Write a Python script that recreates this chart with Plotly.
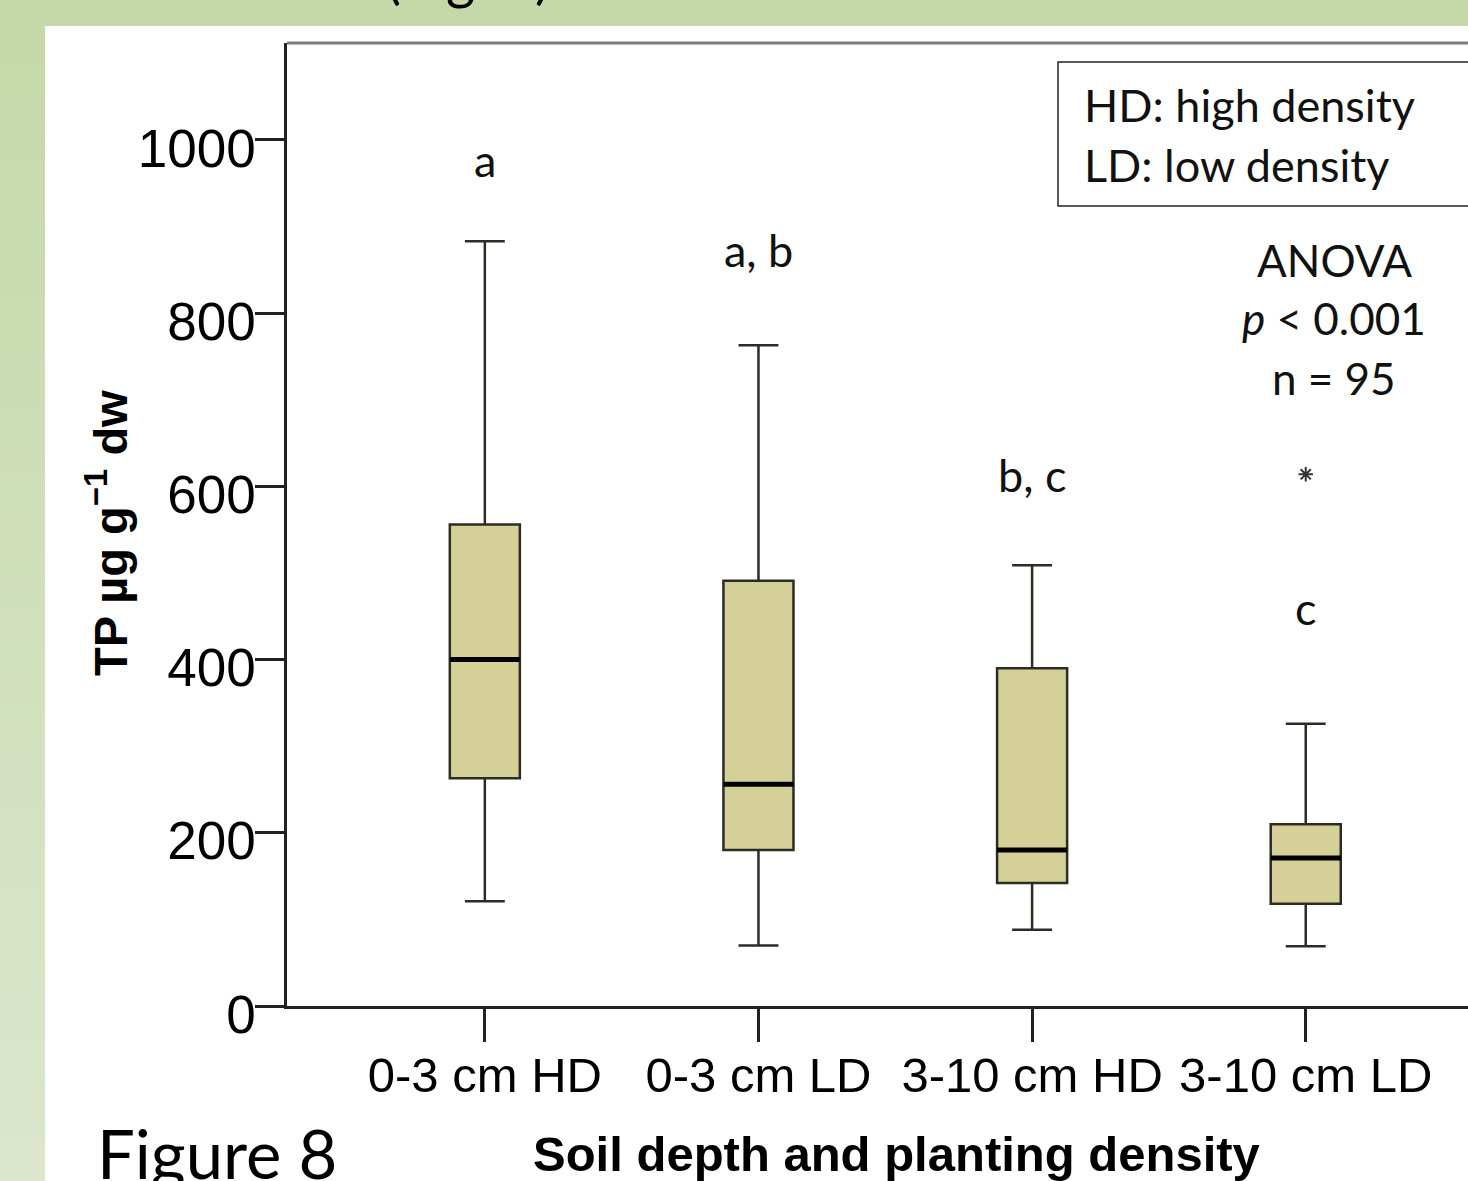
import plotly.graph_objects as go

# ---------------- data ----------------
categories = ["0-3 cm HD", "0-3 cm LD", "3-10 cm HD", "3-10 cm LD"]
q1 = [263, 180, 142, 118]
median = [400, 256, 180, 171]
q3 = [556, 491, 390, 210]
lower_whisker = [121, 70, 88, 69]
upper_whisker = [883, 763, 509, 326]
outlier_cat = ["3-10 cm LD"]
outlier_val = [614]
letters = ["a", "a, b", "b, c", "c"]
letter_y = [977, 873, 613, 460]
y_ticks = [0, 200, 400, 600, 800, 1000]

# ---------------- geometry helpers (pixel -> paper) ----------------
W, H = 1468, 1181
L, T, R, B = 287, 43, 1468, 1006
def PX(px):
    return (px - L) / (R - L)
def PY(py):
    return (B - py) / (B - T)

BOXW = 0.256

fig = go.Figure()
fig.add_trace(go.Box(
    x=categories, q1=q1, median=median, q3=q3,
    lowerfence=lower_whisker, upperfence=upper_whisker,
    width=BOXW, whiskerwidth=0.57,
    fillcolor="#d5cf98", line=dict(color="#2c2c24", width=2.5),
    boxpoints=False, showlegend=False, hoverinfo="skip",
))
fig.add_trace(go.Scatter(
    x=outlier_cat, y=outlier_val, mode="markers",
    marker=dict(symbol="asterisk-open", size=12, color="#333",
                line=dict(color="#333", width=2)),
    showlegend=False, hoverinfo="skip",
))

shapes = []
# green frame: left gradient strip + top band
n = 60
c0 = (0xc5, 0xd8, 0xa9)
c1 = (0xdb, 0xe6, 0xcc)
for i in range(n):
    t = i / (n - 1)
    col = "rgb(%d,%d,%d)" % tuple(round(a + (b - a) * t) for a, b in zip(c0, c1))
    y0 = H * i / n
    y1 = H * (i + 1) / n + 1
    shapes.append(dict(type="rect", xref="paper", yref="paper", layer="below",
                       x0=PX(-5), x1=PX(45), y0=PY(y0 if i else -5), y1=PY(y1),
                       fillcolor=col, line=dict(width=0)))
shapes.append(dict(type="rect", xref="paper", yref="paper", layer="below",
                   x0=PX(-5), x1=PX(W + 5), y0=PY(-5), y1=PY(26),
                   fillcolor="#c5d8a9", line=dict(width=0)))
# top frame line (gray)
shapes.append(dict(type="line", xref="paper", yref="paper",
                   x0=0, x1=1.01, y0=1, y1=1, line=dict(color="#7a7a7a", width=3)))
# legend-like box
shapes.append(dict(type="rect", xref="paper", yref="paper",
                   x0=PX(1058), x1=PX(1490), y0=PY(206), y1=PY(62),
                   fillcolor="rgba(0,0,0,0)", line=dict(color="#222", width=1.5)))
# thick medians
for i, m in enumerate(median):
    shapes.append(dict(type="line", xref="x", yref="y",
                       x0=i - BOXW / 2, x1=i + BOXW / 2, y0=m, y1=m,
                       line=dict(color="#000", width=5)))

ann = []
CAL = "Lato, 'Open Sans', sans-serif"
ARI = "Liberation Sans, Arial, sans-serif"
def A(**kw):
    d = dict(showarrow=False, xanchor="center", yanchor="middle")
    d.update(kw)
    ann.append(d)

for i, (txt, yv) in enumerate(zip(letters, letter_y)):
    A(x=i, y=yv, xref="x", yref="y", text=txt,
      font=dict(family=CAL, size=45, color="#111"))
A(x=PX(1082), y=PY(105), xref="paper", yref="paper", xanchor="left",
  text="HD: high density", font=dict(family=CAL, size=45, color="#111"))
A(x=PX(1082), y=PY(165), xref="paper", yref="paper", xanchor="left",
  text="LD: low density", font=dict(family=CAL, size=45, color="#111"))
for txt, yy in [("ANOVA", 260), ("<i>p</i> < 0.001", 318), ("n = 95", 378)]:
    A(x=PX(1334), y=PY(yy), xref="paper", yref="paper", text=txt,
      font=dict(family=CAL, size=44, color="#111"))
A(x=PX(896), y=PY(1154), xref="paper", yref="paper",
  text="<b>Soil depth and planting density</b>",
  font=dict(family=ARI, size=49, color="#000"))
A(x=PX(107), y=PY(533), xref="paper", yref="paper", textangle=-90,
  text="<b>TP µg g<sup>−1</sup> dw</b>",
  font=dict(family=ARI, size=47, color="#000"))
A(x=PX(95), y=PY(1153), xref="paper", yref="paper", xanchor="left",
  text="Figure 8", font=dict(family=CAL, size=67, color="#000"))
A(x=PX(468), y=PY(12), xref="paper", yref="paper", yanchor="bottom",
  text="(Fig. 8)", font=dict(family=CAL, size=56, color="#000"))

fig.update_layout(
    width=W, height=H,
    margin=dict(l=L, r=W - R, t=T, b=H - B, pad=0),
    paper_bgcolor="white", plot_bgcolor="white",
    shapes=shapes, annotations=ann,
    xaxis=dict(type="category", categoryorder="array", categoryarray=categories,
               range=[-0.723, 3.593], showline=True, linecolor="#222", linewidth=2.5,
               ticks="outside", ticklen=33, tickwidth=2.5, tickcolor="#222",
               showgrid=False, zeroline=False, ticklabelstandoff=-9,
               tickfont=dict(family=ARI, size=49, color="#000")),
    yaxis=dict(range=[0, 1112], tickvals=y_ticks, showline=True, linecolor="#222",
               linewidth=2.5, ticks="outside", ticklen=29, tickwidth=2.5, tickcolor="#222",
               showgrid=False, zeroline=False, ticklabelstandoff=-11, ticklabelshift=8,
               tickfont=dict(family=ARI, size=53, color="#000")),
)

fig.write_html("out.html", config={"displayModeBar": False},
               post_script="document.body.style.margin='0';")
